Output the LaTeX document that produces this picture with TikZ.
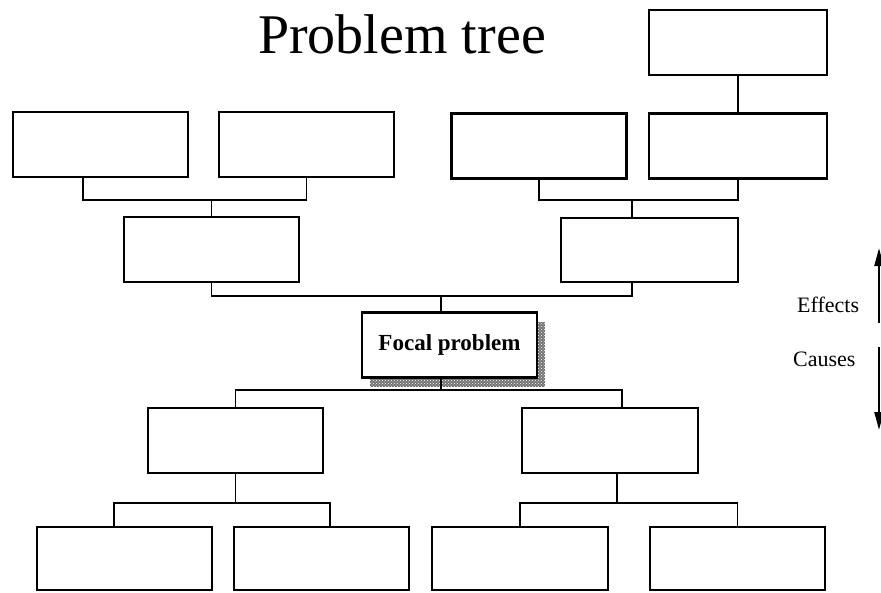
\documentclass[tikz,border=0pt]{standalone}
\usepackage{fontspec}
\setmainfont{Liberation Serif}
\usetikzlibrary{arrows.meta,patterns}
\tikzset{
  box/.style={draw=black, line width=2.2pt, fill=white, minimum width=175pt, minimum height=65pt, inner sep=0pt},
  conn/.style={draw=black, line width=1.6pt},
  arr/.style={draw=black, line width=2.2pt, -{Triangle[length=18pt,width=9pt]}},
  lbl/.style={font=\fontsize{22}{24}\selectfont, inner sep=0pt}
}
\begin{document}
\begin{tikzpicture}[x=1pt,y=-1pt]
\useasboundingbox (0,0) rectangle (881,592);
% title
\node[anchor=base, inner sep=0pt, font=\fontsize{56}{60}\selectfont] (title) at (402,53) {Problem tree};
% effects boxes
\node[box, minimum width=178pt] (A0) at (738,42.5) {};
\node[box] (A1) at (100.5,144.5) {};
\node[box] (A2) at (306.5,144.5) {};
\node[box] (A3) at (539,146) {};
\node[box, minimum width=178pt] (A4) at (738,146) {};
\node[box] (B1) at (211.5,249.5) {};
\node[box, minimum width=177pt, minimum height=64pt] (B2) at (649.5,250) {};
% focal problem shadow and box
\fill[black!55] (370,322) rectangle (545,387);
\fill[pattern=crosshatch dots, pattern color=white] (370,322) rectangle (545,387);
\node[box, font=\fontsize{23}{25}\selectfont\bfseries] (F) at (449.5,345) {Focal problem};
% causes boxes
\node[box] (C1) at (235.5,440.5) {};
\node[box, minimum width=176pt] (C2) at (610,440.5) {};
\node[box, minimum height=63pt] (D1) at (124.5,558.5) {};
\node[box, minimum height=63pt] (D2) at (321.5,558.5) {};
\node[box, minimum width=176pt, minimum height=63pt] (D3) at (520,558.5) {};
\node[box, minimum height=63pt] (D4) at (737.5,558.5) {};
% junctions
\coordinate (h1) at (211.5,200);
\coordinate (h2) at (632,200);
\coordinate (h3) at (441,296);
\coordinate (h4) at (441,390);
\coordinate (h5) at (234,503);
\coordinate (h6) at (617,503);
% connectors (effects)
\draw[conn] (A0.south) -- (A4.north);
\draw[conn] ([xshift=-17.5pt]A1.south) |- (h1) -| (A2.south);
\draw[conn] (h1) -- (B1.north);
\draw[conn] (A3.south) |- (h2) -| (A4.south);
\draw[conn] (h2) -- (h2 |- B2.north);
\draw[conn] (B1.south) |- (h3) -| ([xshift=-17.5pt]B2.south);
\draw[conn] (h3) -- (h3 |- F.north);
% connectors (causes)
\draw[conn] (h4 |- F.south) -- (h4);
\draw[conn] (C1.north) |- (h4) -| ([xshift=12pt]C2.north);
\draw[conn] (C1.south) -- (C1.south |- h5);
\draw[conn] ([xshift=-10.5pt]D1.north) |- (h5) -| ([xshift=8.5pt]D2.north);
\draw[conn] (h6 |- C2.south) -- (h6);
\draw[conn] (D3.north) |- (h6) -| (D4.north);
% side arrows and labels
\coordinate (ua1) at (879,323);
\coordinate (ua2) at (879,248);
\coordinate (da1) at (879,347);
\coordinate (da2) at (879,430);
\draw[arr] (ua1) -- (ua2);
\draw[arr] (da1) -- (da2);
\node[lbl, anchor=base west] (eff) at (797,312) {Effects};
\node[lbl, anchor=base west] (cau) at (793,366) {Causes};
\end{tikzpicture}
\end{document}
